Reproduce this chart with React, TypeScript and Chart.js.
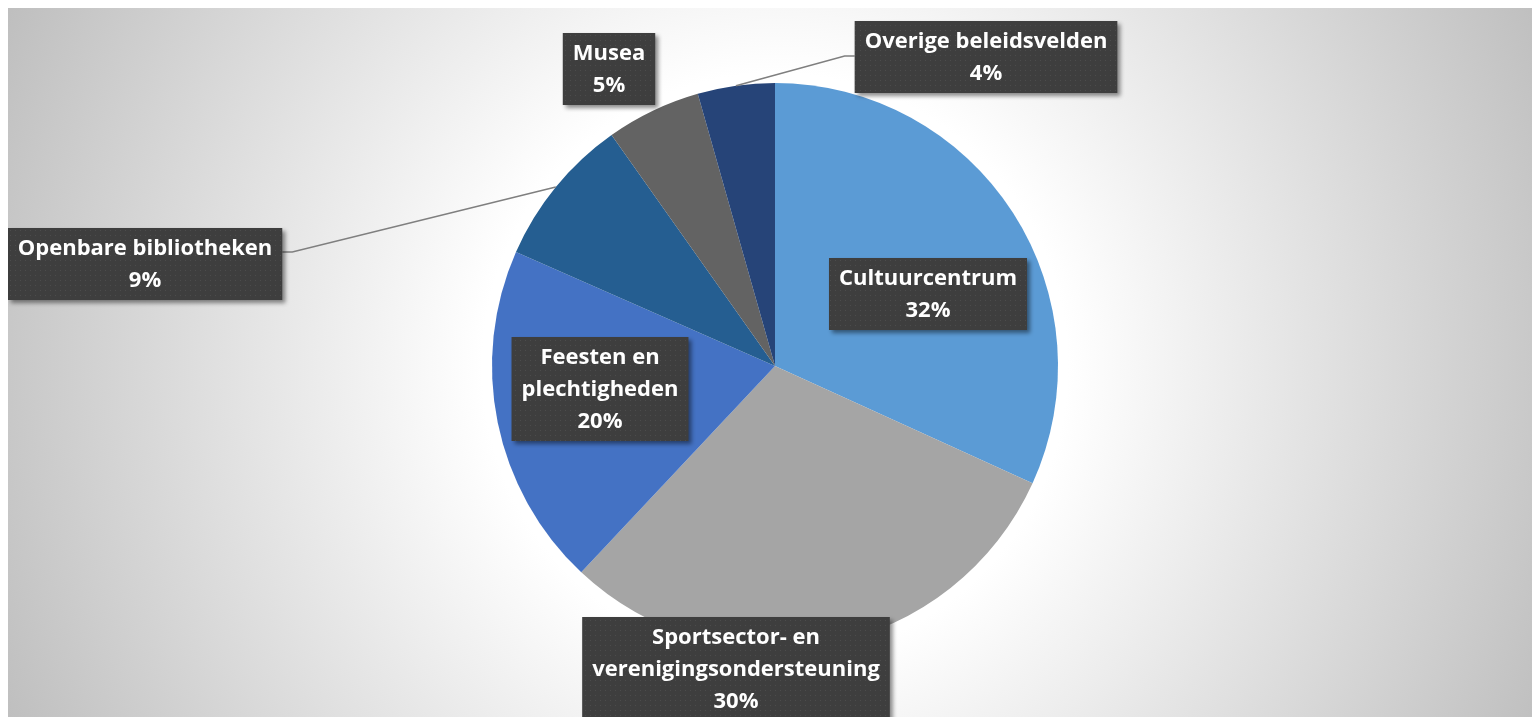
import React, { useEffect, useRef } from "react";
import { Chart, registerables } from "chart.js";

Chart.register(...registerables);

// ---- data ----
const categories = [
  "Cultuurcentrum",
  "Sportsector- en verenigingsondersteuning",
  "Feesten en plechtigheden",
  "Openbare bibliotheken",
  "Musea",
  "Overige beleidsvelden",
];
const shares = [31.8, 30.2, 19.6, 8.6, 5.4, 4.4];
const labelLines = [
  ["Cultuurcentrum"],
  ["Sportsector- en", "verenigingsondersteuning"],
  ["Feesten en", "plechtigheden"],
  ["Openbare bibliotheken"],
  ["Musea"],
  ["Overige beleidsvelden"],
];

// ---- styles / layout ----
const sliceColors = ["#5B9BD5", "#A5A5A5", "#4472C4", "#255E91", "#636363", "#264478"];
const boxCenters = [
  [920, 286],
  [728, 661],
  [592, 381],
  [137, 256],
  [601, 61],
  [978, 49],
];
const hasLeader = [false, false, false, true, false, true];
const leaderOffsetY = [0, 0, 0, -12, 0, -1];
const CANVAS_W = 1532;
const CANVAS_H = 709;
const FONT = "bold 22px 'Open Sans'";
const LINE_H = 32;

function makePattern(ctx: CanvasRenderingContext2D) {
  const c = document.createElement("canvas");
  c.width = 5;
  c.height = 5;
  const p = c.getContext("2d")!;
  p.fillStyle = "#3e3e3e";
  p.fillRect(0, 0, 5, 5);
  p.fillStyle = "#4c4c4c";
  p.fillRect(2, 2, 1, 1);
  return ctx.createPattern(c, "repeat")!;
}

const backgroundPlugin = {
  id: "bgGradient",
  beforeDraw(chart: any) {
    const { ctx } = chart;
    const arc = chart.getDatasetMeta(0).data[0];
    const cx = arc ? arc.x : CANVAS_W / 2;
    const cy = arc ? arc.y : CANVAS_H / 2;
    ctx.save();
    const g = ctx.createRadialGradient(cx, cy, 0, cx, cy, 860);
    g.addColorStop(0, "#ffffff");
    g.addColorStop(0.34, "#ffffff");
    g.addColorStop(1, "#bdbdbd");
    ctx.fillStyle = g;
    ctx.fillRect(0, 0, chart.width, chart.height);
    ctx.restore();
  },
};

const labelPlugin = {
  id: "boxLabels",
  afterDraw(chart: any) {
    const { ctx } = chart;
    const meta = chart.getDatasetMeta(0);
    const data: number[] = chart.data.datasets[0].data;
    const total = data.reduce((a, b) => a + b, 0);
    const pattern = makePattern(ctx);
    ctx.save();
    ctx.font = FONT;
    meta.data.forEach((arc: any, i: number) => {
      const lines = [...labelLines[i], Math.round((data[i] / total) * 100) + "%"];
      const tw = Math.max(...lines.map((l) => ctx.measureText(l).width));
      const w = tw + 20;
      const h = lines.length * LINE_H + 8;
      const [bx, by] = boxCenters[i];
      const left = bx - w / 2;
      const top = by - h / 2;

      if (hasLeader[i]) {
        const p = arc.getProps(["x", "y", "startAngle", "endAngle", "outerRadius"], true);
        const mid = (p.startAngle + p.endAngle) / 2;
        const ax = p.x + Math.cos(mid) * p.outerRadius;
        const ay = p.y + Math.sin(mid) * p.outerRadius;
        const onLeft = bx < ax;
        const ex = onLeft ? left + w : left;
        const ey = by + leaderOffsetY[i];
        const kx = onLeft ? ex + 10 : ex - 10;
        ctx.save();
        ctx.strokeStyle = "#7f7f7f";
        ctx.lineWidth = 1.5;
        ctx.beginPath();
        ctx.moveTo(ex, ey);
        ctx.lineTo(kx, ey);
        ctx.lineTo(ax, ay);
        ctx.stroke();
        ctx.restore();
      }

      ctx.save();
      ctx.shadowColor = "rgba(0,0,0,0.45)";
      ctx.shadowBlur = 4;
      ctx.shadowOffsetX = 3;
      ctx.shadowOffsetY = 3;
      ctx.fillStyle = pattern;
      ctx.fillRect(left, top, w, h);
      ctx.restore();

      ctx.fillStyle = "#ffffff";
      ctx.textAlign = "center";
      ctx.textBaseline = "middle";
      lines.forEach((l, k) => {
        ctx.fillText(l, bx, top + 4 + LINE_H * k + LINE_H / 2 + 1);
      });
    });
    ctx.restore();
  },
};

export default function App() {
  const ref = useRef<HTMLCanvasElement | null>(null);

  useEffect(() => {
    document.documentElement.style.overflow = "hidden";
    const canvas = ref.current!;
    const chart = new Chart(canvas, {
      type: "pie",
      data: {
        labels: categories,
        datasets: [
          {
            data: shares,
            backgroundColor: sliceColors,
            borderWidth: 0,
          },
        ],
      },
      options: {
        responsive: false,
        animation: false,
        layout: { padding: { left: 2, right: 0, top: 75, bottom: 68 } },
        plugins: {
          legend: { display: false },
          tooltip: { enabled: false },
        },
      },
      plugins: [backgroundPlugin, labelPlugin],
    });
    return () => chart.destroy();
  }, []);

  return (
    <div style={{ width: CANVAS_W, height: CANVAS_H }}>
      <canvas ref={ref} width={CANVAS_W} height={CANVAS_H} style={{ display: "block" }} />
    </div>
  );
}
